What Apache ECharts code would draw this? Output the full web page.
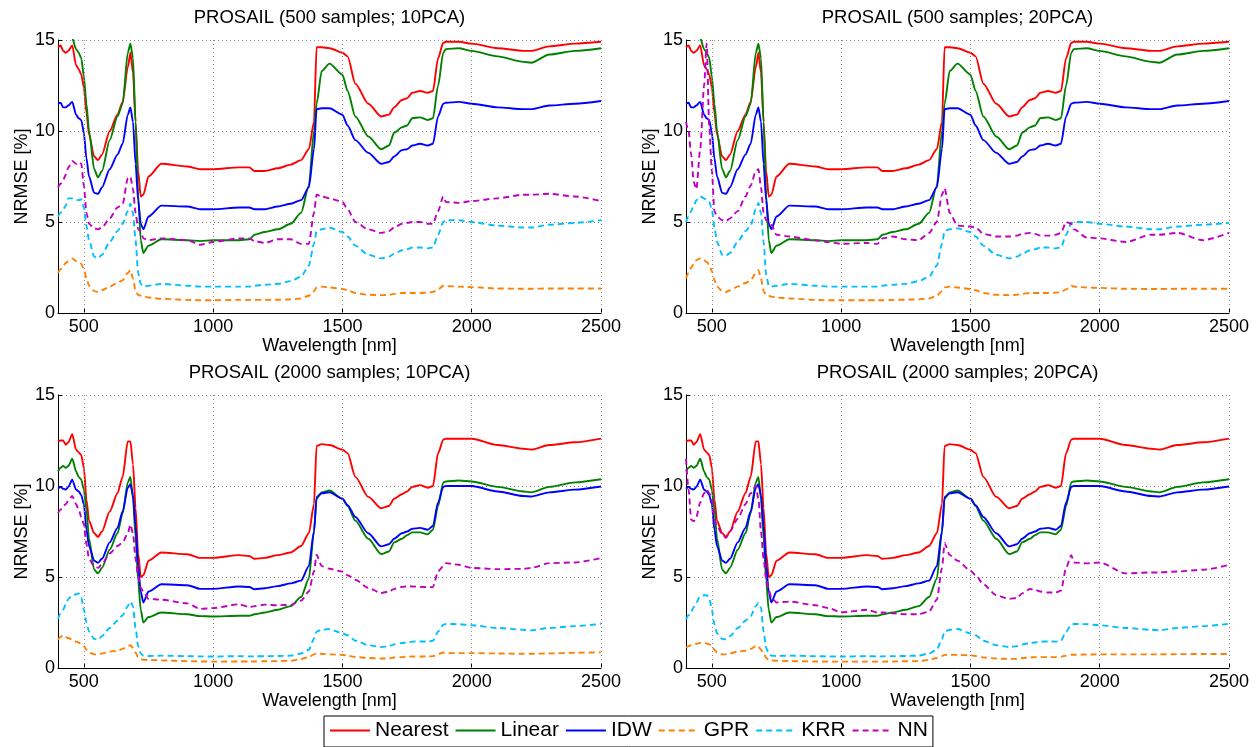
<!DOCTYPE html>
<html>
<head>
<meta charset="utf-8">
<script src="https://cdn.jsdelivr.net/npm/echarts@6/dist/echarts.min.js"></script>
<style>
html, body { margin: 0; padding: 0; background: #fff; }
#main { width: 1260px; height: 747px; }
</style>
</head>
<body>
<div id="main"></div>
<script>
// wavelength samples [nm], shared by every curve
var wavelength = [400,410,420,430,440,455,470,480,490,500,
  510,520,540,555,570,600,630,650,670,680,
  690,700,710,720,730,750,800,900,950,1000,
  1100,1140,1160,1200,1250,1300,1340,1370,1390,1400,
  1420,1450,1500,1520,1550,1600,1650,1680,1700,1730,
  1750,1770,1800,1830,1850,1870,1890,1900,1950,2000,
  2100,2200,2230,2300,2400,2500];

var xTicks = [500, 1000, 1500, 2000, 2500];

// 500 samples, 10PCA
var nearest_500_10 = [14.6,14.7,14.4,14.3,14.4,14.7,13.6,13.4,13.1,12.4,
  11.0,9.8,8.6,8.4,8.7,10.0,10.9,11.6,13.5,14.3,
  13.2,10.5,7.8,6.4,6.5,7.5,8.2,8.05,7.9,7.9,
  8.0,8.0,7.8,7.8,7.95,8.15,8.4,9.0,10.5,14.6,
  14.6,14.55,14.3,14.1,12.6,11.5,10.8,10.9,11.3,11.7,
  11.8,12.1,12.2,12.1,12.2,14.0,14.85,14.9,14.9,14.8,
  14.55,14.4,14.4,14.65,14.8,14.9];
var linear_500_10 = [16,16,16,15.8,15.6,15.1,14.5,14.3,14.0,13.0,
  11.5,10.0,7.9,7.45,7.8,9.5,10.8,11.5,14.3,14.8,
  14.0,10.5,6.5,4.0,3.3,3.7,4.05,4.0,3.95,4.0,
  4.0,4.05,4.3,4.45,4.6,4.9,5.5,7.0,10.0,11.5,
  13.3,13.7,13.1,12.2,10.8,9.7,9.0,9.2,9.9,10.2,
  10.3,10.7,10.75,10.6,10.7,12.5,14.3,14.5,14.55,14.4,
  14.1,13.8,13.75,14.2,14.4,14.55];
var idw_500_10 = [11.5,11.55,11.3,11.3,11.4,11.6,10.9,10.7,10.6,9.9,
  8.5,7.5,6.6,6.55,6.9,7.9,8.7,9.3,10.9,11.3,
  10.5,8.2,6.2,4.9,4.6,5.3,5.9,5.85,5.7,5.7,
  5.8,5.8,5.7,5.7,5.85,6.0,6.2,6.9,9.0,11.2,
  11.25,11.25,10.9,10.3,9.5,8.8,8.2,8.3,8.6,8.95,
  9.0,9.2,9.3,9.2,9.3,10.8,11.5,11.55,11.6,11.5,
  11.3,11.2,11.2,11.4,11.5,11.65];
var gpr_500_10 = [2.2,2.4,2.6,2.75,2.85,3.0,2.85,2.8,2.7,2.4,
  1.9,1.5,1.2,1.15,1.25,1.45,1.65,1.8,2.2,2.35,
  1.9,1.2,1.0,0.95,0.92,0.85,0.78,0.72,0.7,0.7,
  0.72,0.72,0.72,0.72,0.73,0.75,0.8,0.95,1.2,1.4,
  1.45,1.4,1.32,1.25,1.1,1.0,0.98,1.0,1.05,1.1,
  1.1,1.1,1.1,1.12,1.15,1.3,1.5,1.48,1.45,1.42,
  1.35,1.33,1.33,1.35,1.35,1.35];
var krr_500_10 = [5.3,5.5,5.7,5.9,6.3,6.3,6.2,6.2,6.25,5.8,
  4.8,4.0,3.1,3.0,3.2,3.9,4.5,4.9,5.6,6.0,
  5.5,4.0,2.2,1.6,1.45,1.5,1.6,1.5,1.45,1.45,
  1.45,1.45,1.5,1.55,1.6,1.75,2.0,2.6,3.8,4.5,
  4.6,4.7,4.45,4.2,3.7,3.2,3.0,3.1,3.25,3.45,
  3.5,3.6,3.6,3.55,3.6,4.3,5.0,5.1,5.1,5.0,
  4.8,4.7,4.7,4.85,4.95,5.1];
var nn_500_10 = [6.9,7.1,7.3,7.6,8.0,8.35,8.2,8.3,8.2,7.0,
  5.5,4.9,4.65,4.6,4.7,5.2,5.8,6.0,7.4,7.5,
  6.8,5.5,4.6,4.5,4.1,4.0,4.1,4.0,3.75,3.9,
  4.1,4.1,3.95,3.85,4.05,4.05,3.8,3.8,5.5,6.5,
  6.4,6.3,6.1,5.7,5.0,4.6,4.4,4.5,4.7,4.9,
  4.95,5.0,5.0,4.9,4.9,5.6,6.4,6.1,6.05,6.15,
  6.3,6.5,6.5,6.55,6.4,6.15];

// 500 samples, 20PCA (interpolators unchanged)
var nearest_500_20 = nearest_500_10;
var linear_500_20 = linear_500_10;
var idw_500_20 = idw_500_10;
var gpr_500_20 = [1.9,2.2,2.5,2.7,2.9,3.0,2.9,2.8,2.65,2.3,
  1.8,1.45,1.2,1.15,1.25,1.45,1.65,1.8,2.2,2.35,
  1.9,1.2,1.0,0.95,0.9,0.85,0.8,0.72,0.7,0.7,
  0.7,0.7,0.7,0.72,0.73,0.75,0.8,0.95,1.2,1.4,
  1.45,1.4,1.32,1.25,1.1,1.0,0.98,1.0,1.05,1.1,
  1.1,1.1,1.1,1.12,1.15,1.3,1.5,1.45,1.4,1.38,
  1.33,1.32,1.32,1.33,1.33,1.33];
var krr_500_20 = [5.0,5.3,5.6,5.9,6.2,6.4,6.3,6.2,6.1,5.7,
  4.7,3.9,3.2,3.15,3.3,3.9,4.5,4.8,5.7,6.05,
  5.5,3.9,2.1,1.5,1.45,1.5,1.6,1.5,1.45,1.45,
  1.45,1.45,1.5,1.55,1.6,1.75,2.0,2.6,3.8,4.5,
  4.6,4.65,4.45,4.2,3.7,3.2,3.0,3.1,3.25,3.45,
  3.5,3.6,3.6,3.55,3.6,4.3,4.95,5.0,5.0,4.9,
  4.75,4.6,4.6,4.75,4.85,4.95];
var nn_500_20 = [10.5,10.0,8.7,7.2,6.8,9.0,12.5,14.8,10.2,7.8,
  5.6,5.3,5.1,5.05,5.2,5.6,6.4,7.0,7.8,7.9,
  6.9,5.5,5.1,5.0,4.85,4.3,4.2,4.0,3.9,3.8,
  3.85,3.8,4.1,4.2,4.05,4.0,4.4,5.0,6.5,6.85,
  5.5,4.8,4.75,4.7,4.35,4.2,4.2,4.25,4.35,4.4,
  4.35,4.25,4.25,4.3,4.4,5.0,4.9,4.6,4.15,4.1,
  3.9,4.3,4.3,4.4,4.0,4.4];

// 2000 samples, 10PCA
var nearest_2000_10 = [12.45,12.5,12.5,12.27,12.4,12.85,12.0,11.85,11.7,11.0,
  9.25,8.1,7.4,7.2,7.5,8.6,9.6,10.5,12.45,12.45,
  11.2,8.8,6.3,5.0,5.1,5.9,6.35,6.25,6.05,6.05,
  6.2,6.15,6.0,6.05,6.2,6.35,6.7,7.4,9.0,12.2,
  12.3,12.25,12.0,11.8,10.5,9.4,8.78,8.9,9.3,9.55,
  9.7,9.95,10.05,9.9,10.0,11.8,12.55,12.6,12.6,12.6,
  12.25,12.05,12.0,12.25,12.4,12.6];
var linear_2000_10 = [10.8,11.0,11.1,11.0,11.1,11.5,10.8,10.5,10.35,9.8,
  8.7,7.1,5.4,5.2,5.5,6.5,7.4,8.5,10.2,10.5,
  9.3,7.2,4.8,3.2,2.5,2.8,3.05,2.95,2.85,2.83,
  2.87,2.87,2.95,3.05,3.2,3.4,3.9,4.9,7.5,9.3,
  9.65,9.75,9.3,8.9,8.1,7.1,6.26,6.4,6.9,7.1,
  7.3,7.45,7.45,7.35,7.6,8.9,10.2,10.25,10.3,10.25,
  9.95,9.7,9.65,9.95,10.2,10.37];
var idw_2000_10 = [9.85,9.95,9.85,9.8,9.95,10.35,9.8,9.7,9.5,9.0,
  7.6,6.7,5.9,5.78,6.0,6.9,7.7,8.6,9.9,10.1,
  9.5,7.8,5.6,4.2,3.6,4.2,4.6,4.55,4.35,4.35,
  4.48,4.45,4.33,4.38,4.5,4.65,4.8,5.6,7.5,9.4,
  9.6,9.66,9.3,8.95,8.3,7.4,6.68,6.8,7.1,7.4,
  7.5,7.65,7.7,7.6,7.8,9.1,9.95,10.0,10.0,10.0,
  9.7,9.45,9.42,9.65,9.8,9.97];
var gpr_2000_10 = [1.55,1.7,1.8,1.7,1.65,1.55,1.45,1.4,1.3,1.2,
  1.0,0.85,0.75,0.75,0.8,0.9,0.95,1.05,1.2,1.25,
  1.1,0.85,0.6,0.5,0.45,0.44,0.42,0.38,0.36,0.35,
  0.36,0.36,0.36,0.37,0.38,0.4,0.5,0.6,0.75,0.82,
  0.78,0.75,0.72,0.68,0.6,0.55,0.52,0.53,0.58,0.6,
  0.62,0.63,0.63,0.63,0.65,0.75,0.85,0.82,0.82,0.82,
  0.8,0.78,0.78,0.8,0.84,0.86];
var krr_2000_10 = [2.7,3.0,3.2,3.5,3.8,4.0,4.05,4.1,3.86,3.2,
  2.5,2.0,1.6,1.55,1.75,2.2,2.6,2.9,3.4,3.65,
  3.4,2.2,1.2,0.8,0.68,0.66,0.68,0.65,0.64,0.63,
  0.65,0.64,0.64,0.65,0.66,0.68,0.8,1.0,1.6,2.0,
  2.1,2.14,1.9,1.8,1.5,1.25,1.15,1.2,1.3,1.37,
  1.4,1.45,1.46,1.45,1.5,2.0,2.38,2.42,2.41,2.35,
  2.2,2.1,2.07,2.2,2.3,2.43];
var nn_2000_10 = [8.5,8.7,8.9,9.0,9.2,9.45,9.0,8.7,8.3,7.9,
  6.8,6.0,5.6,5.5,5.7,6.3,6.7,6.9,7.4,7.88,
  7.4,6.0,5.0,4.4,4.2,3.8,3.75,3.55,3.25,3.29,
  3.5,3.35,3.4,3.48,3.45,3.47,3.7,4.2,5.3,6.22,
  5.6,5.45,5.3,5.1,4.85,4.4,4.12,4.2,4.35,4.45,
  4.5,4.48,4.46,4.44,4.45,5.3,5.6,5.76,5.67,5.5,
  5.43,5.45,5.5,5.76,5.8,6.04];

// 2000 samples, 20PCA (interpolators unchanged)
var nearest_2000_20 = nearest_2000_10;
var linear_2000_20 = linear_2000_10;
var idw_2000_20 = idw_2000_10;
var gpr_2000_20 = [1.12,1.2,1.25,1.3,1.33,1.38,1.38,1.35,1.3,1.25,
  1.0,0.85,0.75,0.75,0.8,0.9,0.95,1.05,1.2,1.2,
  1.0,0.8,0.55,0.45,0.42,0.4,0.38,0.36,0.35,0.35,
  0.35,0.35,0.35,0.36,0.37,0.38,0.45,0.55,0.65,0.72,
  0.72,0.72,0.7,0.66,0.58,0.52,0.5,0.5,0.55,0.58,
  0.6,0.6,0.6,0.6,0.62,0.68,0.73,0.73,0.74,0.75,
  0.75,0.75,0.75,0.76,0.77,0.77];
var krr_2000_20 = [2.67,2.9,3.1,3.35,3.6,3.95,4.0,4.0,3.86,3.2,
  2.4,1.9,1.6,1.57,1.75,2.2,2.6,2.85,3.4,3.58,
  3.3,2.0,1.1,0.78,0.68,0.66,0.68,0.65,0.64,0.63,
  0.65,0.64,0.64,0.65,0.66,0.68,0.8,1.0,1.6,2.0,
  2.1,2.14,1.9,1.8,1.5,1.25,1.15,1.2,1.3,1.37,
  1.4,1.45,1.46,1.45,1.5,2.0,2.38,2.42,2.41,2.35,
  2.2,2.1,2.07,2.2,2.3,2.43];
var nn_2000_20 = [11.5,9.8,8.15,8.06,8.3,9.1,9.6,9.8,9.6,9.3,
  8.15,7.8,7.35,7.15,7.5,8.2,9.0,9.6,10.0,9.3,
  7.5,6.0,4.9,4.3,3.85,3.6,3.65,3.45,3.3,3.05,
  3.2,3.05,3.05,3.0,2.95,2.95,3.1,3.75,5.5,6.86,
  6.2,5.9,5.35,5.1,4.6,4.0,3.8,3.85,4.1,4.34,
  4.3,4.2,4.15,4.15,4.25,5.5,6.2,5.8,5.75,5.8,
  5.2,5.25,5.25,5.3,5.4,5.67];

var names = ['Nearest', 'Linear', 'IDW', 'GPR', 'KRR', 'NN'];
var colors = ['#ff0000', '#008000', '#0000ff', '#ff8000', '#00bfff', '#bf00bf'];
var titles = ['PROSAIL (500 samples; 10PCA)', 'PROSAIL (500 samples; 20PCA)',
  'PROSAIL (2000 samples; 10PCA)', 'PROSAIL (2000 samples; 20PCA)'];

var panels = [
  [nearest_500_10, linear_500_10, idw_500_10, gpr_500_10, krr_500_10, nn_500_10],
  [nearest_500_20, linear_500_20, idw_500_20, gpr_500_20, krr_500_20, nn_500_20],
  [nearest_2000_10, linear_2000_10, idw_2000_10, gpr_2000_10, krr_2000_10, nn_2000_10],
  [nearest_2000_20, linear_2000_20, idw_2000_20, gpr_2000_20, krr_2000_20, nn_2000_20]
];

var FONT = '"Liberation Sans", Arial, Helvetica, sans-serif';
var gridBox = [
  {left: 58, top: 40},
  {left: 686, top: 40},
  {left: 58, top: 395},
  {left: 686, top: 395}
];
var plotW = 543, plotH = 273;

var chart = echarts.init(document.getElementById('main'), null, {renderer: 'canvas'});

var grids = [], xAxes = [], yAxes = [], titleList = [], series = [];

gridBox.forEach(function (g, i) {
  grids.push({left: g.left, top: g.top, width: plotW, height: plotH, outerBoundsMode: 'none'});
  titleList.push({
    text: titles[i],
    left: g.left + plotW / 2,
    top: g.top - 32,
    textAlign: 'center',
    padding: 0,
    textStyle: {fontFamily: FONT, fontSize: 18.5, fontWeight: 'normal', color: '#000'}
  });
  xAxes.push({
    type: 'value', gridIndex: i, min: 400, max: 2500,
    name: 'Wavelength [nm]', nameLocation: 'middle', nameGap: 22,
    nameTextStyle: {fontFamily: FONT, fontSize: 18, color: '#000'},
    axisLine: {onZero: false, lineStyle: {color: '#000', width: 1}},
    axisTick: {inside: true, length: 4, customValues: xTicks, lineStyle: {color: '#000'}},
    axisLabel: {
      customValues: xTicks, fontFamily: FONT, fontSize: 18, color: '#000', margin: 5,
      formatter: function (v) { return String(v); }
    },
    splitLine: {show: false}
  });
  yAxes.push({
    type: 'value', gridIndex: i, min: 0, max: 15, interval: 5,
    name: 'NRMSE [%]', nameLocation: 'middle', nameGap: 27,
    nameTextStyle: {fontFamily: FONT, fontSize: 18, color: '#000'},
    axisLine: {show: true, lineStyle: {color: '#000', width: 1}},
    axisTick: {show: true, inside: true, length: 4, lineStyle: {color: '#000'}},
    axisLabel: {fontFamily: FONT, fontSize: 18, color: '#000', margin: 3},
    splitLine: {show: true, lineStyle: {color: '#888', width: 1, type: [1, 3]}}
  });

  // dotted vertical grid lines at the labelled wavelengths
  series.push({
    type: 'line', xAxisIndex: i, yAxisIndex: i, data: [], silent: true, z: 1,
    markLine: {
      silent: true, symbol: ['none', 'none'], label: {show: false},
      lineStyle: {color: '#888', width: 1, type: [1, 3]},
      data: xTicks.map(function (v) { return {xAxis: v}; })
    }
  });

  panels[i].forEach(function (vals, k) {
    series.push({
      name: names[k], type: 'line', xAxisIndex: i, yAxisIndex: i,
      data: wavelength.map(function (w, j) { return [w, vals[j]]; }),
      symbol: 'none', showSymbol: false, smooth: 0.25, smoothMonotone: 'x',
      clip: true, z: 2 + k,
      itemStyle: {color: colors[k]},
      lineStyle: {color: colors[k], width: 1.9, type: k >= 3 ? [6, 4] : 'solid'}
    });
  });
});

var option = {
  animation: false,
  backgroundColor: '#fff',
  title: titleList,
  grid: grids,
  xAxis: xAxes,
  yAxis: yAxes,
  legend: {
    data: names,
    left: 324, top: 716,
    orient: 'horizontal',
    itemWidth: 40, itemHeight: 14, itemGap: 6,
    padding: [4, 5, 6, 5],
    borderColor: '#000', borderWidth: 1, backgroundColor: '#fff',
    itemStyle: {opacity: 0, borderWidth: 0},
    textStyle: {fontFamily: FONT, fontSize: 21, color: '#000'}
  },
  series: series
};

chart.setOption(option);
</script>
</body>
</html>
